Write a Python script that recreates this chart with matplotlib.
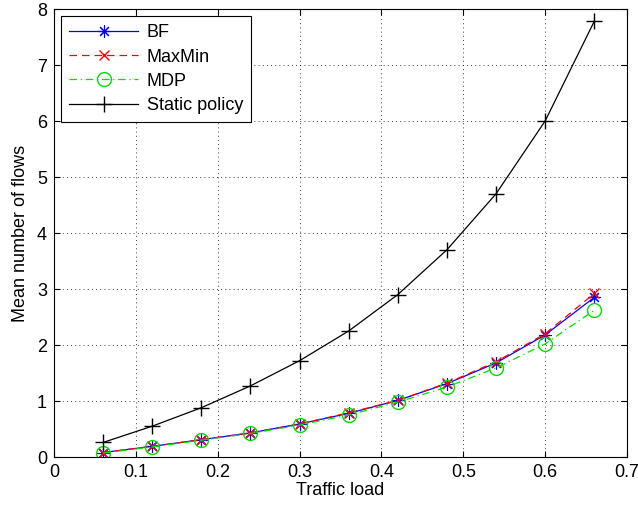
import matplotlib
matplotlib.use("Agg")
import matplotlib.pyplot as plt

plt.rcParams['font.family'] = ['Liberation Sans', 'DejaVu Sans']

load = [0.06, 0.12, 0.18, 0.24, 0.30, 0.36, 0.42, 0.48, 0.54, 0.60, 0.66]
bf = [0.08, 0.19, 0.31, 0.43, 0.59, 0.78, 1.01, 1.31, 1.68, 2.18, 2.85]
maxmin = [0.08, 0.19, 0.31, 0.43, 0.59, 0.79, 1.01, 1.32, 1.70, 2.20, 2.92]
mdp = [0.07, 0.18, 0.30, 0.42, 0.57, 0.75, 0.98, 1.25, 1.59, 2.02, 2.62]
static = [0.26, 0.55, 0.88, 1.27, 1.72, 2.25, 2.90, 3.70, 4.70, 6.00, 7.78]

fig = plt.figure(figsize=(6.38, 5.11), dpi=100)
ax = fig.add_axes([54/638, 54/511, (627-54)/638, (457-9)/511])

ax.plot(load, bf, color='blue', marker=(8, 2, 0), markersize=9, markeredgewidth=0.8,
        lw=0.9, label='BF')
ax.plot(load, maxmin, color='red', ls=(0, (6, 4)), marker='x', markersize=7, lw=0.9, label='MaxMin')
ax.plot(load, mdp, color='#00e000', ls=(0, (6, 3, 1, 3)), marker='o', markersize=10,
        markerfacecolor='none', lw=0.9, label='MDP')
ax.plot(load, static, color='black', marker='+', markersize=11, lw=0.9, label='Static policy')

ax.set_xlim(0, 0.7)
ax.set_ylim(0, 8)
ax.set_xticks([0, 0.1, 0.2, 0.3, 0.4, 0.5, 0.6, 0.7])
ax.set_xticklabels(['0', '0.1', '0.2', '0.3', '0.4', '0.5', '0.6', '0.7'])
ax.set_yticks(range(9))
ax.grid(True, ls=(0, (1, 4)), color='black', lw=0.6)
ax.tick_params(direction='in', top=True, right=True, labelsize=13, length=4, pad=5)
for s in ax.spines.values():
    s.set_linewidth(0.8)
ax.set_xlabel('Traffic load', fontsize=13, labelpad=1)
ax.set_ylabel('Mean number of flows', fontsize=13, labelpad=6)

leg = ax.legend(loc='upper left', fontsize=13, fancybox=False, edgecolor='black',
                framealpha=1, handlelength=3.8, borderaxespad=0.4, labelspacing=0.4,
                borderpad=0.45, handletextpad=0.5)
leg.get_frame().set_linewidth(0.8)

fig.savefig('out.png', dpi=100)
